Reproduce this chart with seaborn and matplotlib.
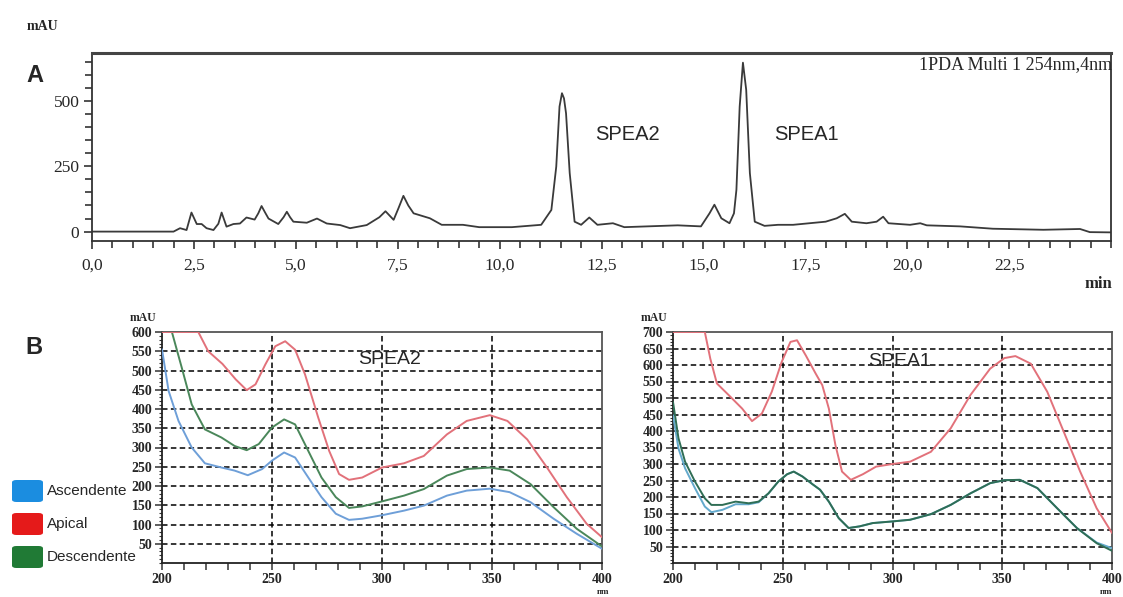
import numpy as np
import pandas as pd
import matplotlib
matplotlib.use("Agg")
import matplotlib.pyplot as plt
import seaborn as sns
from matplotlib.ticker import MultipleLocator, FuncFormatter, FixedLocator
from matplotlib.patches import FancyBboxPatch

# ---------------- data ----------------
# Panel A: chromatogram (PDA 254 nm)
chrom_time = [0.0, 2.0, 2.16, 2.32, 2.44, 2.57, 2.69, 2.81, 2.98, 3.1, 3.18, 3.3, 3.47, 3.63,
              3.79, 3.99, 4.08, 4.16, 4.24, 4.33, 4.57, 4.7, 4.78, 4.86, 4.94, 5.27, 5.52, 5.76,
              6.09, 6.33, 6.74, 7.05, 7.2, 7.4, 7.52, 7.64, 7.76, 7.89, 8.29, 8.58, 9.1, 9.5,
              10.3, 11.02, 11.27, 11.39, 11.47, 11.53, 11.58, 11.63, 11.72, 11.84, 12.0, 12.2,
              12.4, 12.78, 13.06, 14.37, 14.94, 15.15, 15.27, 15.44, 15.64, 15.75, 15.81, 15.89,
              15.97, 16.05, 16.14, 16.26, 16.5, 16.83, 17.2, 18.0, 18.27, 18.47, 18.64, 19.0,
              19.25, 19.41, 19.54, 20.07, 20.32, 20.48, 21.3, 22.1, 23.34, 24.24, 24.48, 25.0]
chrom_mau = [0, 0, 13, 6, 73, 29, 29, 13, 6, 30, 73, 19, 29, 31,
             54, 46, 70, 98, 75, 50, 29, 55, 76, 55, 38, 34, 50, 31,
             25, 13, 25, 55, 78, 45, 90, 137, 100, 70, 51, 26, 26, 17,
             17, 26, 83, 249, 479, 530, 510, 453, 224, 38, 26, 54,
             26, 32, 17, 24, 20, 70, 103, 51, 32, 70, 160, 479,
             647, 543, 224, 38, 22, 26, 26, 38, 51, 68, 38, 32,
             38, 57, 32, 26, 32, 24, 20, 11, 7, 10, -2, -3]
chrom_xticks = [0.0, 2.5, 5.0, 7.5, 10.0, 12.5, 15.0, 17.5, 20.0, 22.5]

# Panel B: UV spectra, SPEA2
spea2_asc_nm = [200, 203, 207.5, 213.5, 219.5, 227, 233, 239, 245.5, 250, 255.5, 260.5, 266.5,
                272.5, 279, 285, 291, 300, 310, 319, 329.5, 338.5, 349, 358, 367.5, 378, 388.5, 400]
spea2_asc = [555, 447, 369, 300, 259, 248, 240, 228, 244, 266, 287, 274, 222,
             171, 128, 112, 115, 124, 136, 149, 175, 188, 193, 184, 158, 115, 76, 37]
spea2_desc_nm = [200, 204.5, 209, 213.5, 219.5, 227, 233, 238.5, 244, 250, 255.5, 260.5, 266.5,
                 272.5, 279, 285, 291, 300, 310, 319, 329.5, 338.5, 349, 358, 367.5, 378, 388.5, 400]
spea2_desc = [680, 600, 507, 412, 347, 326, 304, 293, 309, 352, 373, 360, 291,
              222, 171, 143, 147, 160, 175, 192, 227, 244, 248, 240, 205, 145, 89, 43]
spea2_api_nm = [200, 216.5, 221, 227.5, 233.5, 238.5, 242.5, 247, 251.5, 256, 260.5, 265, 271,
                276, 280.5, 285, 291, 300, 310, 319, 329.5, 338.5, 349, 357, 366, 375, 384, 393, 400]
spea2_api = [600, 600, 550, 517, 477, 449, 464, 516, 563, 576, 554, 490, 378,
             291, 231, 216, 222, 248, 259, 278, 334, 369, 384, 369, 321, 248, 171, 102, 67]

# Panel B: UV spectra, SPEA1
spea1_nm = [200, 202.5, 205.5, 210, 214.5, 217.5, 222.5, 228.5, 234.5, 239, 243.5, 248, 252, 255,
            259, 263.5, 267, 271, 275.5, 280, 285, 291, 300, 308, 317.5, 326.5, 335.5, 344.5,
            351, 358, 366, 375, 384, 393, 400]
spea1_asc = [448, 347, 287, 227, 171, 154, 161, 178, 178, 184, 211, 247, 269, 277,
             262, 239, 222, 186, 136, 106, 111, 121, 126, 131, 148, 176, 211, 242,
             251, 252, 227, 166, 106, 62, 45]
spea1_desc = [488, 378, 307, 247, 196, 176, 176, 186, 181, 186, 211, 247, 269, 277,
              262, 239, 222, 186, 136, 106, 111, 121, 126, 131, 148, 176, 211, 242,
              251, 252, 227, 166, 106, 60, 37]
spea1_api_nm = [200, 214.5, 217, 220, 225.5, 231.5, 236, 240.5, 245, 249.5, 253.5, 256.5, 260.5,
                265, 268, 271, 274, 277, 281, 286.5, 292.5, 300, 308, 317.5, 326.5, 335.5, 344.5,
                351, 356, 363, 370.5, 378, 385.5, 393, 400]
spea1_api = [700, 700, 619, 544, 508, 468, 430, 453, 519, 609, 670, 675, 629,
             574, 539, 468, 357, 277, 252, 269, 292, 300, 307, 337, 408, 509, 589,
             621, 627, 604, 519, 398, 277, 166, 91]

legend_labels = ["Ascendente", "Apical", "Descendente"]

# ---------------- style ----------------
sns.set_theme(style="ticks")
plt.rcParams["font.family"] = ["Liberation Serif", "DejaVu Serif"]

W, H = 1123, 597
fig = plt.figure(figsize=(W / 100, H / 100), dpi=100)
fig.patch.set_facecolor("white")


def ax_at(l, t, r, b):
    return fig.add_axes([l / W, 1 - b / H, (r - l) / W, (b - t) / H])


def ftext(x, y, s, **kw):
    fig.text(x / W, 1 - y / H, s, **kw)


SANS = ["Liberation Sans", "DejaVu Sans"]
SERIF = ["Liberation Serif", "DejaVu Serif"]

# ---------------- Panel A ----------------
axA = ax_at(92, 53, 1111, 241)
dfA = pd.DataFrame({"t": chrom_time, "mAU": chrom_mau})
sns.lineplot(data=dfA, x="t", y="mAU", ax=axA, color="#3a3a3a", lw=1.3,
             estimator=None, sort=False)
axA.set_xlim(0, 25)
axA.set_ylim(-36, 684)
axA.xaxis.set_major_locator(FixedLocator(chrom_xticks))
axA.xaxis.set_minor_locator(MultipleLocator(0.5))
axA.yaxis.set_major_locator(FixedLocator([0, 250, 500]))
axA.yaxis.set_minor_locator(FixedLocator(list(range(50, 700, 50))))
axA.xaxis.set_major_formatter(FuncFormatter(lambda v, p: f"{v:.1f}".replace(".", ",")))
axA.set_xlabel("")
axA.set_ylabel("")
for side in ["left", "bottom", "right"]:
    axA.spines[side].set_linewidth(1.3)
    axA.spines[side].set_color("#333333")
axA.spines["top"].set_linewidth(2.2)
axA.spines["top"].set_color("#444444")
axA.tick_params(axis="both", which="both", direction="out", color="#333333", width=1.2,
                labelsize=12.5, pad=3)
axA.tick_params(axis="both", which="major", length=6)
axA.tick_params(axis="both", which="minor", length=5)
axA.tick_params(axis="x", pad=6)


# ---------------- Panel B ----------------
def spectra_panel(l, r, ymax, series, order, palette):
    ax = ax_at(l, 332, r, 563)
    df = pd.concat([pd.DataFrame({"nm": x, "mAU": y, "serie": name}) for name, x, y in series],
                   ignore_index=True)
    ax.set_axisbelow(True)
    for yv in range(50, ymax, 50):
        ax.axhline(yv, color="black", lw=1.1, ls=(0, (3.6, 2.2)), zorder=1)
    for xv in [250, 300, 350]:
        ax.axvline(xv, color="black", lw=1.1, ls=(0, (3.6, 2.2)), zorder=1)
    sns.lineplot(data=df, x="nm", y="mAU", hue="serie", hue_order=order, palette=palette,
                 ax=ax, lw=1.4, estimator=None, sort=False, legend=False, zorder=3)
    ax.set_xlim(200, 400)
    ax.set_ylim(0, ymax)
    ax.xaxis.set_major_locator(MultipleLocator(50))
    ax.xaxis.set_minor_locator(MultipleLocator(10))
    ax.yaxis.set_major_locator(FixedLocator(list(range(50, ymax + 1, 50))))
    ax.yaxis.set_minor_locator(MultipleLocator(10))
    ax.set_xlabel("")
    ax.set_ylabel("")
    for side in ["left", "bottom"]:
        ax.spines[side].set_linewidth(1.3)
        ax.spines[side].set_color("#222222")
    for side in ["top", "right"]:
        ax.spines[side].set_linewidth(1.3)
        ax.spines[side].set_color("#555555")
    ax.tick_params(axis="both", which="both", direction="out", color="#333333", width=1.1,
                   labelsize=10, pad=2)
    ax.tick_params(axis="x", which="both", length=5, pad=2)
    ax.tick_params(axis="y", which="major", length=5)
    ax.tick_params(axis="y", which="minor", length=2.5, width=0.8)
    for lab in ax.get_xticklabels() + ax.get_yticklabels():
        lab.set_fontweight("bold")
    return ax


blue_line, red_line, green_line = "#6e9fd8", "#e2717a", "#4a875a"
ax2 = spectra_panel(162, 602, 600,
                    [("Ascendente", spea2_asc_nm, spea2_asc),
                     ("Descendente", spea2_desc_nm, spea2_desc),
                     ("Apical", spea2_api_nm, spea2_api)],
                    ["Ascendente", "Descendente", "Apical"],
                    {"Ascendente": blue_line, "Descendente": green_line, "Apical": red_line})
ax1 = spectra_panel(673, 1112, 700,
                    [("Ascendente", spea1_nm, spea1_asc),
                     ("Descendente", spea1_nm, spea1_desc),
                     ("Apical", spea1_api_nm, spea1_api)],
                    ["Apical", "Ascendente", "Descendente"],
                    {"Ascendente": "#63a9cc", "Descendente": "#2f6e55", "Apical": red_line})

# ---------------- texts ----------------
ftext(42, 27, "mAU", family=SERIF, fontsize=10, fontweight="bold", ha="center", va="center")
ftext(35, 75, "A", family=SANS, fontsize=17, fontweight="bold", ha="center", va="center")
ftext(34, 348, "B", family=SANS, fontsize=17, fontweight="bold", ha="center", va="center")
ftext(1098, 284, "min", family=SERIF, fontsize=12, fontweight="bold", ha="center", va="center")
ftext(1112, 65, "1PDA Multi 1 254nm,4nm", family=SERIF, fontsize=13, ha="right", va="center")
ftext(627, 135, "SPEA2", family=SANS, fontsize=14.5, ha="center", va="center")
ftext(806, 135, "SPEA1", family=SANS, fontsize=14.5, ha="center", va="center")
ftext(390, 360, "SPEA2", family=SANS, fontsize=14, ha="center", va="center")
ftext(900, 361, "SPEA1", family=SANS, fontsize=14, ha="center", va="center")
ftext(143, 318, "mAU", family=SERIF, fontsize=8.5, fontweight="bold", ha="center", va="center")
ftext(654, 318, "mAU", family=SERIF, fontsize=8.5, fontweight="bold", ha="center", va="center")
ftext(603, 592, "nm", family=SERIF, fontsize=6.5, fontweight="bold", ha="center", va="center")
ftext(1106, 592, "nm", family=SERIF, fontsize=6.5, fontweight="bold", ha="center", va="center")

# ---------------- legend ----------------
legend_colors = ["#1b8de0", "#e51a1a", "#207a35"]
legend_y = [491, 524, 557]
for lab, col, yc in zip(legend_labels, legend_colors, legend_y):
    box = FancyBboxPatch(((12) / W, 1 - (yc + 11) / H), 31 / W, 22 / H,
                         boxstyle="round,pad=0,rounding_size=0.004",
                         transform=fig.transFigure, facecolor=col, edgecolor="none")
    fig.patches.append(box)
    ftext(47, yc, lab, family=SANS, fontsize=11, ha="left", va="center")

fig.savefig("out.png", dpi=100, facecolor="white")
